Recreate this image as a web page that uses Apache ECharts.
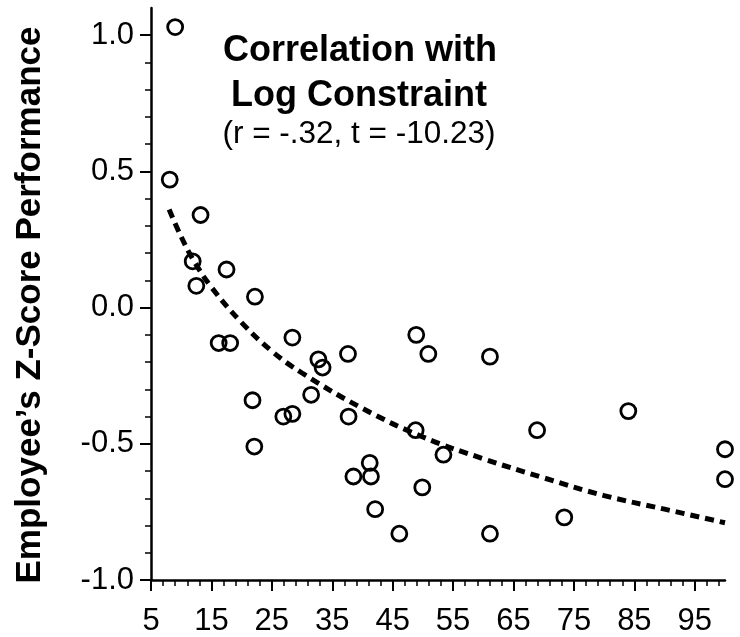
<!DOCTYPE html>
<html>
<head>
<meta charset="utf-8">
<script src="https://cdn.jsdelivr.net/npm/echarts@6/dist/echarts.min.js"></script>
<style>
html,body{margin:0;padding:0;background:#fff;}
#chart{width:740px;height:637px;}
</style>
</head>
<body>
<div id="chart"></div>
<script>
// ---- data ----
const pointsX = [9.0, 8.1, 13.2, 11.9, 12.5, 17.5, 22.2, 16.2, 18.1, 28.4, 21.8, 22.1, 26.9, 28.4, 31.5, 32.7, 33.4, 37.6, 37.7, 38.5, 41.2, 41.4, 42.1, 46.1, 49.9, 53.4, 48.8, 48.9, 50.9, 61.1, 68.9, 61.1, 73.4, 84.0, 100.0, 100.0];
const pointsY = [1.03, 0.47, 0.34, 0.17, 0.08, 0.14, 0.04, -0.13, -0.13, -0.11, -0.34, -0.51, -0.40, -0.39, -0.32, -0.19, -0.22, -0.17, -0.40, -0.62, -0.57, -0.62, -0.74, -0.83, -0.66, -0.54, -0.45, -0.10, -0.17, -0.18, -0.45, -0.83, -0.77, -0.38, -0.52, -0.63];
const trendX = [8, 10, 12, 15, 20, 25, 30, 40, 50, 60, 70, 80, 90, 100];
const trendY = [0.36, 0.26, 0.175, 0.075, -0.055, -0.16, -0.24, -0.37, -0.475, -0.555, -0.625, -0.69, -0.74, -0.79];
const xMajorTicks = [5, 15, 25, 35, 45, 55, 65, 75, 85, 95];
const xMinorTicks = [7, 9, 11, 13, 17, 19, 21, 23, 27, 29, 31, 33, 37, 39, 41, 43, 47, 49, 51, 53, 57, 59, 61, 63, 67, 69, 71, 73, 77, 79, 81, 83, 87, 89, 91, 93, 97, 99];
const yMajorTicks = [-1.0, -0.5, 0.0, 0.5, 1.0];
const yMinorTicks = [-0.9, -0.8, -0.7, -0.6, -0.4, -0.3, -0.2, -0.1, 0.1, 0.2, 0.3, 0.4, 0.6, 0.7, 0.8, 0.9];
const titleLines = ['Correlation with', 'Log Constraint'];
const subtitleText = '(r = -.32, t = -10.23)';
const yAxisTitle = 'Employee\u2019s Z-Score Performance';

const chart = echarts.init(document.getElementById('chart'), null, {renderer: 'canvas'});
const FONT = '"Liberation Sans", Arial, Helvetica, sans-serif';
const X_MIN = 5, X_MAX = 100, Y_MIN = -1.0, Y_MAX = 1.1;

function makeX(major) {
  return {
    type: 'value', min: X_MIN, max: X_MAX, position: 'bottom',
    splitLine: {show: false},
    axisLine: {show: major, onZero: false, lineStyle: {color: '#000', width: 2.5}},
    axisTick: {show: true, inside: false, length: major ? 11 : 6,
      customValues: major ? xMajorTicks : xMinorTicks,
      lineStyle: {color: '#000', width: major ? 2 : 1.5}},
    axisLabel: {show: major, customValues: xMajorTicks, margin: 26,
      fontFamily: FONT, fontSize: 31, color: '#000'}
  };
}
function makeY(major) {
  return {
    type: 'value', min: Y_MIN, max: Y_MAX, position: 'left',
    splitLine: {show: false},
    axisLine: {show: major, onZero: false, lineStyle: {color: '#000', width: 2.5}},
    axisTick: {show: true, inside: false, length: major ? 11 : 6,
      customValues: major ? yMajorTicks : yMinorTicks,
      lineStyle: {color: '#000', width: major ? 2 : 1.5}},
    axisLabel: {show: major, customValues: yMajorTicks, margin: 17,
      fontFamily: FONT, fontSize: 31, color: '#000',
      formatter: v => Number(v).toFixed(1)}
  };
}

const option = {
  backgroundColor: '#fff',
  animation: false,
  grid: {left: 151, right: 15, top: 8, bottom: 55, containLabel: false},
  xAxis: [makeX(true), makeX(false)],
  yAxis: [makeY(true), makeY(false)],
  graphic: [
    {type: 'text', x: 360, y: 51, silent: true,
      style: {text: titleLines[0], font: 'bold 36px ' + FONT, fill: '#000', align: 'center', verticalAlign: 'middle'}},
    {type: 'text', x: 359, y: 96, silent: true,
      style: {text: titleLines[1], font: 'bold 36px ' + FONT, fill: '#000', align: 'center', verticalAlign: 'middle'}},
    {type: 'text', x: 359, y: 134, silent: true,
      style: {text: subtitleText, font: '31.5px ' + FONT, fill: '#000', align: 'center', verticalAlign: 'middle'}},
    {type: 'text', x: 30, y: 305, rotation: Math.PI / 2, silent: true,
      style: {text: yAxisTitle, font: 'bold 35px ' + FONT, fill: '#000', align: 'center', verticalAlign: 'middle'}}
  ],
  series: [
    {
      type: 'line', xAxisIndex: 0, yAxisIndex: 0,
      data: trendX.map((x, i) => [x, trendY[i]]),
      smooth: 0.4, showSymbol: false, symbol: 'none', silent: true,
      lineStyle: {color: '#000', width: 5, type: [9, 6], cap: 'butt'},
      z: 2
    },
    {
      type: 'scatter', xAxisIndex: 0, yAxisIndex: 0,
      data: pointsX.map((x, i) => [x, pointsY[i]]),
      symbol: 'circle', symbolSize: 15, clip: false,
      itemStyle: {color: 'rgba(0,0,0,0)', borderColor: '#000', borderWidth: 2.8, opacity: 1},
      z: 3
    }
  ]
};
chart.setOption(option);
</script>
</body>
</html>
